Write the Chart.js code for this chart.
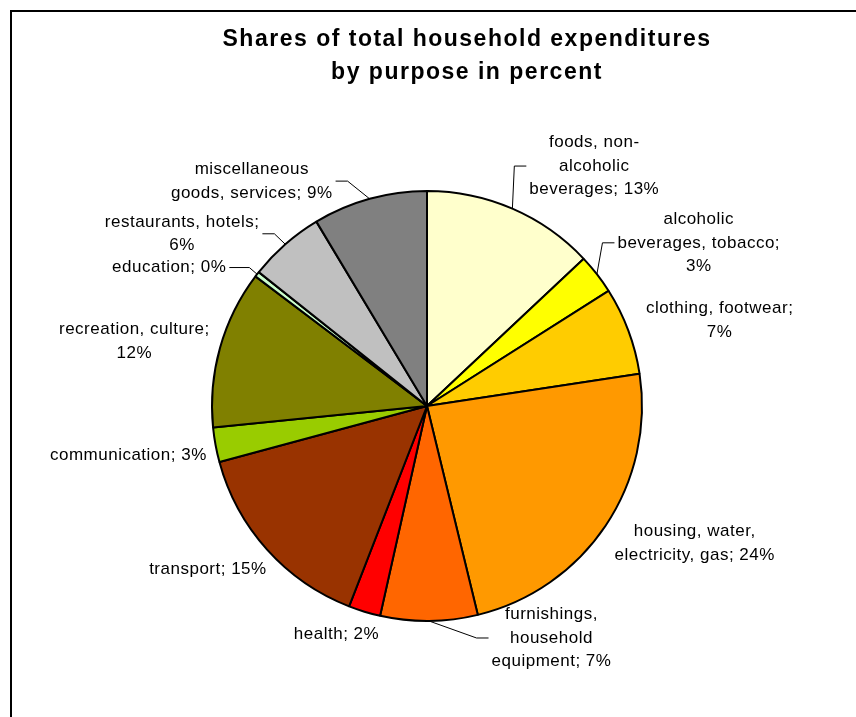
<!DOCTYPE html>
<html>
<head>
<meta charset="utf-8">
<title>Shares of total household expenditures</title>
<script src="https://cdn.jsdelivr.net/npm/chart.js@4.4.1/dist/chart.umd.min.js"></script>
<style>
    html, body { margin: 0; padding: 0; background: #fff; }
    #wrap { width: 856px; height: 717px; position: relative; }
</style>
</head>
<body>
<div id="wrap"><canvas id="pie" width="856" height="717"></canvas></div>
<script>
// chart data (clockwise from 12 o'clock)
const categories = [
    'foods, non-\nalcoholic\nbeverages',
    'alcoholic\nbeverages, tobacco',
    'clothing, footwear',
    'housing, water,\nelectricity, gas',
    'furnishings,\nhousehold\nequipment',
    'health',
    'transport',
    'communication',
    'recreation, culture',
    'education',
    'restaurants, hotels',
    'miscellaneous\ngoods, services'
];
const shares = [13.0, 3.0, 6.6, 23.6, 7.3, 2.4, 14.9, 2.6, 11.9, 0.4, 5.7, 8.6];
const sliceColors = [
    '#FFFFCC', '#FFFF00', '#FFCC00', '#FF9900', '#FF6600', '#FF0000',
    '#993300', '#99CC00', '#808000', '#CCFFCC', '#C0C0C0', '#808080'
];
const titleLines = ['Shares of total household expenditures', 'by purpose in percent'];

// where each label sits, measured in pie radii from the centre
const labelLayout = [
    { dx: 0.778,  dy: -1.116, leader: true },
    { dx: 1.264,  dy: -0.759, leader: true, pctOwnLine: true },
    { dx: 1.361,  dy: -0.398, pctOwnLine: true },
    { dx: 1.245,  dy: 0.639 },
    { dx: 0.579,  dy: 1.079, leader: true },
    { dx: -0.421, dy: 1.060 },
    { dx: -1.019, dy: 0.759 },
    { dx: -1.389, dy: 0.231 },
    { dx: -1.361, dy: -0.301, pctOwnLine: true },
    { dx: -1.199, dy: -0.644, leader: true, arm: 20 },
    { dx: -1.139, dy: -0.801, leader: true, pctOwnLine: true },
    { dx: -0.815, dy: -1.046, leader: true }
];

const LABEL_FONT = '17px "Liberation Sans", Arial, sans-serif';
const TITLE_FONT = 'bold 23px "Liberation Sans", Arial, sans-serif';

const decorPlugin = {
    id: 'decor',
    afterDraw(chart) {
        const ctx = chart.ctx;
        const meta = chart.getDatasetMeta(0);
        const total = shares.reduce((a, b) => a + b, 0);

        ctx.save();

        // frame (only top and left edges are visible in the original)
        ctx.strokeStyle = '#000';
        ctx.lineWidth = 2;
        ctx.beginPath();
        ctx.moveTo(11, chart.height);
        ctx.lineTo(11, 11);
        ctx.lineTo(chart.width, 11);
        ctx.stroke();

        // title
        ctx.fillStyle = '#000';
        ctx.font = TITLE_FONT;
        ctx.letterSpacing = '1.5px';
        ctx.textAlign = 'center';
        ctx.textBaseline = 'middle';
        titleLines.forEach((t, k) => ctx.fillText(t, 467, 40 + k * 33));

        // slice labels
        ctx.font = LABEL_FONT;
        ctx.letterSpacing = '0.5px';
        const lineH = 23.5;
        meta.data.forEach((arc, i) => {
            const p = arc.getProps(['x', 'y', 'startAngle', 'endAngle', 'outerRadius'], true);
            const lay = labelLayout[i];
            const pct = Math.round(shares[i] / total * 100) + '%';
            const lines = categories[i].split('\n');
            if (lay.pctOwnLine) {
                lines[lines.length - 1] += ';';
                lines.push(pct);
            } else {
                lines[lines.length - 1] += '; ' + pct;
            }

            const cx = p.x + lay.dx * p.outerRadius;
            const cy = p.y + lay.dy * p.outerRadius;
            const y0 = cy - (lines.length - 1) * lineH / 2;
            let w = 0;
            lines.forEach((t, k) => {
                ctx.fillText(t, cx, y0 + k * lineH);
                w = Math.max(w, ctx.measureText(t).width);
            });

            if (lay.leader) {
                const mid = (p.startAngle + p.endAngle) / 2;
                const ax = p.x + Math.cos(mid) * p.outerRadius;
                const ay = p.y + Math.sin(mid) * p.outerRadius;
                const side = ax > cx ? 1 : -1;
                const ex = cx + side * (w / 2 + 3);
                const arm = lay.arm || 12;
                ctx.strokeStyle = '#000';
                ctx.lineWidth = 1;
                ctx.beginPath();
                ctx.moveTo(ex, cy);
                ctx.lineTo(ex + side * arm, cy);
                ctx.lineTo(ax, ay);
                ctx.stroke();
            }
        });

        ctx.restore();
    }
};

new Chart(document.getElementById('pie'), {
    type: 'pie',
    data: {
        labels: categories.map(c => c.replace(/\n/g, ' ')),
        datasets: [{
            data: shares,
            backgroundColor: sliceColors,
            borderColor: '#000',
            borderWidth: 2,
            hoverOffset: 0,
            radius: 215
        }]
    },
    options: {
        responsive: false,
        animation: false,
        layout: {
            padding: { left: 0, right: 2, top: 100, bottom: 5 }
        },
        plugins: {
            legend: { display: false },
            title: { display: false },
            tooltip: { enabled: false }
        }
    },
    plugins: [decorPlugin]
});
</script>
</body>
</html>
